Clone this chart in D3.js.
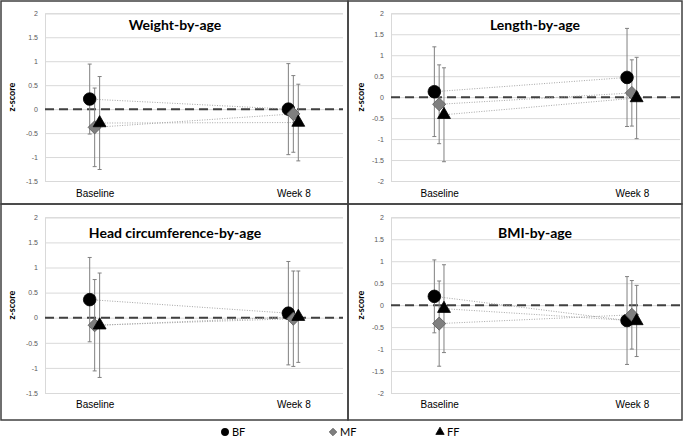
<!DOCTYPE html>
<html>
<head>
<meta charset="utf-8">
<script src="https://cdn.jsdelivr.net/npm/d3@7"></script>
<style>
  body { margin: 0; background: #fff; }
  svg { font-family: Lato, "Liberation Sans", sans-serif; }
</style>
</head>
<body>
<div id="chart"></div>
<script>
//categories
var timepoints = ["Baseline", "Week 8"];
var groups = ["BF", "MF", "FF"];

//mean z-scores, one row per group: [baseline, week 8]
var weightMean = [[0.21, 0.00], [-0.38, -0.10], [-0.29, -0.28]];
var weightSD   = [[0.73, 0.95], [0.82, 0.80], [0.97, 0.80]];
var lengthMean = [[0.13, 0.47], [-0.17, 0.10], [-0.42, -0.02]];
var lengthSD   = [[1.07, 1.17], [0.94, 0.79], [1.12, 0.97]];
var headMean   = [[0.36, 0.09], [-0.15, -0.02], [-0.15, 0.02]];
var headSD     = [[0.84, 1.03], [0.91, 0.95], [1.04, 0.91]];
var bmiMean    = [[0.20, -0.35], [-0.42, -0.22], [-0.08, -0.36]];
var bmiSD      = [[0.83, 1.00], [0.97, 0.78], [1.00, 0.81]];

var titles = ["Weight-by-age", "Length-by-age", "Head circumference-by-age", "BMI-by-age"];
var yLows = [-1.5, -2, -1.5, -2];
var yTop = 2;

//x positions on the category axis (group offset around each time point)
var timeX = [1, 5];
var groupOffset = [-0.1, 0, 0.1];

//layout
var W = 685, H = 438;
var cols = [{box: 1, w: 347, left: 45, right: 343, yLab: 15, titleX: 175},
            {box: 348, w: 334, left: 391, right: 680, yLab: 364, titleX: 535}];
var rows = [{box: 1, h: 203, top: 13.3, bottom: 181, titleY: 30, catY: 197},
            {box: 204, h: 216, top: 217.3, bottom: 393, titleY: 238, catY: 408}];

var means = [weightMean, lengthMean, headMean, bmiMean];
var sds = [weightSD, lengthSD, headSD, bmiSD];

var svg = d3.select("#chart").append("svg")
  .attr("width", W)
  .attr("height", H);

var symbols = [d3.symbolCircle, d3.symbolDiamond2, d3.symbolTriangle];
var symSizes = [125, 110, 72];
var legSizes = [42, 36, 30];
var symFill = ["#000", "#7f7f7f", "#000"];
var symStroke = ["#000", "#595959", "#000"];

titles.forEach(function(title, p) {
  var c = cols[p % 2], r = rows[Math.floor(p / 2)];

  //panel border
  svg.append("rect")
    .attr("x", c.box).attr("y", r.box)
    .attr("width", c.w).attr("height", r.h)
    .attr("fill", "none").attr("stroke", "#404040").attr("stroke-width", 1.5);

  var x = d3.scaleLinear().domain([0, 6]).range([c.left, c.right]);
  var y = d3.scaleLinear().domain([yLows[p], yTop]).range([r.bottom, r.top]);
  var ticks = d3.range(yLows[p], yTop + 0.01, 0.5);

  //gridlines
  svg.append("g")
    .attr("transform", "translate(" + c.left + ",0)")
    .call(d3.axisLeft(y).tickValues(ticks).tickSize(-(c.right - c.left)).tickFormat(""))
    .call(function(g) {
      g.select(".domain").attr("stroke", "#d9d9d9");
      g.selectAll(".tick line").attr("stroke", "#d9d9d9");
    });

  //tick labels
  svg.append("g")
    .attr("transform", "translate(" + (c.left - 7) + ",0)")
    .call(d3.axisLeft(y).tickValues(ticks).tickSize(0).tickPadding(0)
      .tickFormat(function(d) { return String(d); }))
    .call(function(g) {
      g.select(".domain").remove();
      g.selectAll("text").attr("fill", "#595959").attr("font-size", 7);
    });

  //category labels
  svg.append("g")
    .attr("transform", "translate(0," + r.catY + ")")
    .call(d3.axisBottom(x).tickValues(timeX).tickSize(0).tickPadding(0)
      .tickFormat(function(d, i) { return timepoints[i]; }))
    .call(function(g) {
      g.select(".domain").remove();
      g.selectAll("text").attr("fill", "#000").attr("font-size", 10).attr("dy", 0);
    });

  //y title
  svg.append("text")
    .attr("transform", "translate(" + c.yLab + "," + ((r.top + r.bottom) / 2) + ") rotate(-90)")
    .attr("text-anchor", "middle")
    .attr("font-size", 9).attr("font-weight", "bold")
    .text("z-score");

  //panel title
  svg.append("text")
    .attr("x", c.titleX).attr("y", r.titleY)
    .attr("text-anchor", "middle")
    .attr("font-size", 14).attr("font-weight", "bold")
    .text(title);

  //zero reference line
  svg.append("line")
    .attr("x1", c.left).attr("x2", c.right)
    .attr("y1", y(0)).attr("y2", y(0))
    .attr("stroke", "#404040").attr("stroke-width", 2).attr("stroke-dasharray", "9,5");

  //connecting dotted lines
  var line = d3.line()
    .x(function(d, i) { return x(timeX[i] + d.off); })
    .y(function(d) { return y(d.v); });
  means[p].forEach(function(row, gi) {
    var pts = row.map(function(v) { return {v: v, off: groupOffset[gi]}; });
    svg.append("path")
      .attr("d", line(pts))
      .attr("fill", "none").attr("stroke", "#a6a6a6").attr("stroke-width", 1)
      .attr("stroke-dasharray", "1,1.5");
  });

  //error bars
  means[p].forEach(function(row, gi) {
    row.forEach(function(v, ti) {
      var cx = x(timeX[ti] + groupOffset[gi]);
      var hi = y(v + sds[p][gi][ti]), lo = y(v - sds[p][gi][ti]);
      var eb = svg.append("g").attr("stroke", "#808080").attr("stroke-width", 1);
      eb.append("line").attr("x1", cx).attr("x2", cx).attr("y1", hi).attr("y2", lo);
      eb.append("line").attr("x1", cx - 2).attr("x2", cx + 2).attr("y1", hi).attr("y2", hi);
      eb.append("line").attr("x1", cx - 2).attr("x2", cx + 2).attr("y1", lo).attr("y2", lo);
    });
  });

  //markers
  means[p].forEach(function(row, gi) {
    row.forEach(function(v, ti) {
      svg.append("path")
        .attr("d", d3.symbol().type(symbols[gi]).size(symSizes[gi])())
        .attr("transform", "translate(" + x(timeX[ti] + groupOffset[gi]) + "," + y(v) + ")")
        .attr("fill", symFill[gi]).attr("stroke", symStroke[gi]).attr("stroke-width", 0.8);
    });
  });
});

//legend
var legX = [225, 333, 440];
var leg = svg.selectAll(".legend")
  .data(groups)
  .enter().append("g")
    .attr("class", "legend")
    .attr("transform", function(d, i) { return "translate(" + legX[i] + ",432)"; });

leg.append("path")
  .attr("d", function(d, i) { return d3.symbol().type(symbols[i]).size(legSizes[i])(); })
  .attr("fill", function(d, i) { return symFill[i]; })
  .attr("stroke", function(d, i) { return symStroke[i]; })
  .attr("stroke-width", 0.8);

leg.append("text")
  .attr("x", 7).attr("y", 4)
  .attr("font-size", 11)
  .text(function(d) { return d; });
</script>
</body>
</html>
